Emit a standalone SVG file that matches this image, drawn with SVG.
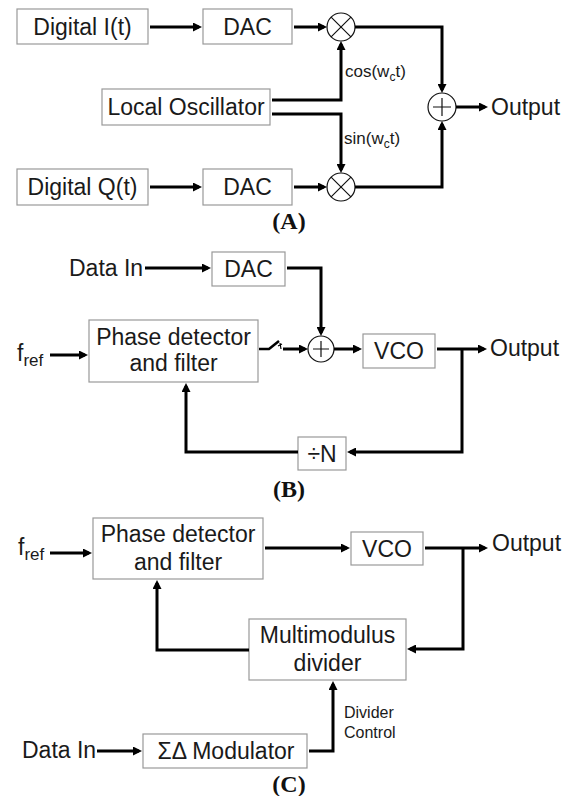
<svg xmlns="http://www.w3.org/2000/svg" width="569" height="796" viewBox="0 0 569 796">
<style>
.box{fill:#fff;stroke:#999;stroke-width:1.2}
.t{font-family:"Liberation Sans",Arial,sans-serif;font-size:23px;fill:#1a1a1a}
.tc{text-anchor:middle}
.s{font-family:"Liberation Sans",Arial,sans-serif;font-size:17px;fill:#1a1a1a}
.sm{font-family:"Liberation Sans",Arial,sans-serif;font-size:16px;fill:#1a1a1a}
.cap{font-family:"Liberation Serif","Times New Roman",serif;font-size:24px;font-weight:bold;fill:#111;text-anchor:middle}
.op{fill:#fff;stroke:#111;stroke-width:1.2}
.opl{stroke:#111;stroke-width:1.2;fill:none}
.c{fill:none;stroke:#000;stroke-width:3;stroke-linejoin:miter}
.a{marker-end:url(#ah)}
</style>
<defs>
<marker id="ah" markerUnits="userSpaceOnUse" markerWidth="9" markerHeight="9" viewBox="0 0 9 9" refX="6" refY="4.5" orient="auto">
<path d="M0,0 L9,4.5 L0,9 z" fill="#000"/>
</marker>
</defs>
<rect width="569" height="796" fill="#fff"/>

<!-- Panel A -->
<g id="digital-i"><rect class="box" x="17" y="9" width="131" height="35"/><text class="t tc" x="82.5" y="34.5">Digital I(t)</text></g>
<g id="dac-a1"><rect class="box" x="203" y="9" width="89" height="35"/><text class="t tc" x="247.5" y="34.5">DAC</text></g>
<g id="mult-a1"><circle class="op" cx="341" cy="27" r="14"/><path class="opl" d="M331.1,17.1 L350.9,36.9 M350.9,17.1 L331.1,36.9"/></g>
<g id="lo"><rect class="box" x="102" y="89" width="168" height="36"/><text class="t tc" x="186" y="115">Local Oscillator</text></g>
<g id="digital-q"><rect class="box" x="17" y="169" width="131" height="36"/><text class="t tc" x="82.5" y="195">Digital Q(t)</text></g>
<g id="dac-a2"><rect class="box" x="203" y="169" width="89" height="36"/><text class="t tc" x="247.5" y="195">DAC</text></g>
<g id="mult-a2"><circle class="op" cx="341" cy="187" r="14"/><path class="opl" d="M331.1,177.1 L350.9,196.9 M350.9,177.1 L331.1,196.9"/></g>
<g id="sum-a"><circle class="op" cx="442" cy="107" r="14"/><path class="opl" d="M433,107 H451 M442,98 V116"/></g>
<g id="labels-a">
<text class="s" x="345" y="77">cos(w<tspan font-size="12" dy="4">c</tspan><tspan dy="-4">t)</tspan></text>
<text class="s" x="344" y="144">sin(w<tspan font-size="12" dy="4">c</tspan><tspan dy="-4">t)</tspan></text>
<text class="t" x="491" y="115">Output</text>
<text class="cap" x="289" y="229">(A)</text>
</g>

<!-- Panel B -->
<g id="datain-b"><text class="t" x="69" y="276">Data In</text></g>
<g id="dac-b"><rect class="box" x="212" y="252" width="73" height="34"/><text class="t tc" x="248.5" y="277">DAC</text></g>
<g id="fref-b"><text class="t" x="17" y="361">f<tspan font-size="17" dy="5">ref</tspan></text></g>
<g id="pd-b"><rect class="box" x="89" y="320" width="169" height="62"/><text class="t tc" x="173.5" y="345">Phase detector</text><text class="t tc" x="173.5" y="371">and filter</text></g>
<g id="switch-b"><path d="M259,349 H269 L279,341" fill="none" stroke="#000" stroke-width="2.5"/><path d="M278,346 L282,344 M280,343 L281,349" fill="none" stroke="#000" stroke-width="1.2"/></g>
<g id="sum-b"><circle class="op" cx="321" cy="349" r="13"/><path class="opl" d="M313,349 H329 M321,341 V357"/></g>
<g id="vco-b"><rect class="box" x="363" y="334" width="72" height="34"/><text class="t tc" x="399" y="359">VCO</text></g>
<g id="divn-b"><rect class="box" x="298" y="437" width="48" height="33"/><text class="t tc" x="322" y="462">÷N</text></g>
<g id="labels-b"><text class="t" x="490" y="356">Output</text><text class="cap" x="289" y="497">(B)</text></g>

<!-- Panel C -->
<g id="fref-c"><text class="t" x="18" y="555">f<tspan font-size="17" dy="5">ref</tspan></text></g>
<g id="pd-c"><rect class="box" x="93" y="518" width="170" height="61"/><text class="t tc" x="178" y="542">Phase detector</text><text class="t tc" x="178" y="570">and filter</text></g>
<g id="vco-c"><rect class="box" x="351" y="532" width="72" height="33"/><text class="t tc" x="387" y="557">VCO</text></g>
<g id="mmd-c"><rect class="box" x="249" y="619" width="157" height="61"/><text class="t tc" x="327.5" y="643">Multimodulus</text><text class="t tc" x="327.5" y="671">divider</text></g>
<g id="datain-c"><text class="t" x="22" y="758">Data In</text></g>
<g id="sdm-c"><rect class="box" x="143" y="734" width="164" height="34"/><text class="t tc" x="226" y="759">ΣΔ Modulator</text></g>
<g id="labels-c">
<text class="t" x="492" y="551">Output</text>
<text class="sm" x="344" y="718">Divider</text>
<text class="sm" x="344" y="738">Control</text>
<text class="cap" x="289" y="792">(C)</text>
</g>

<g id="connectors">
<!-- A -->
<path class="c a" d="M150,27 H199"/>
<path class="c a" d="M294,27 H324"/>
<path class="c a" d="M355,27 H442 V90"/>
<path class="c a" d="M272,100 H341 V44"/>
<path class="c a" d="M272,114 H341 V170"/>
<path class="c a" d="M150,187 H199"/>
<path class="c a" d="M294,187 H324"/>
<path class="c a" d="M355,187 H442 V124"/>
<path class="c a" d="M456,107 H485"/>
<!-- B -->
<path class="c a" d="M145,268 H208"/>
<path class="c a" d="M287,268 H321 V333"/>
<path class="c a" d="M50,355 H85"/>
<path class="c a" d="M283,349 H305"/>
<path class="c a" d="M334,349 H359"/>
<path class="c a" d="M437,349 H484"/>
<path class="c a" d="M462,349 V452 H350"/>
<path class="c a" d="M298,452 H186 V386"/>
<!-- C -->
<path class="c a" d="M50,553 H89"/>
<path class="c a" d="M265,548 H347"/>
<path class="c a" d="M425,548 H485"/>
<path class="c a" d="M463,548 V649 H410"/>
<path class="c a" d="M249,650 H157 V583"/>
<path class="c a" d="M97,751 H139"/>
<path class="c a" d="M309,751 H333 V684"/>
</g>
</svg>
